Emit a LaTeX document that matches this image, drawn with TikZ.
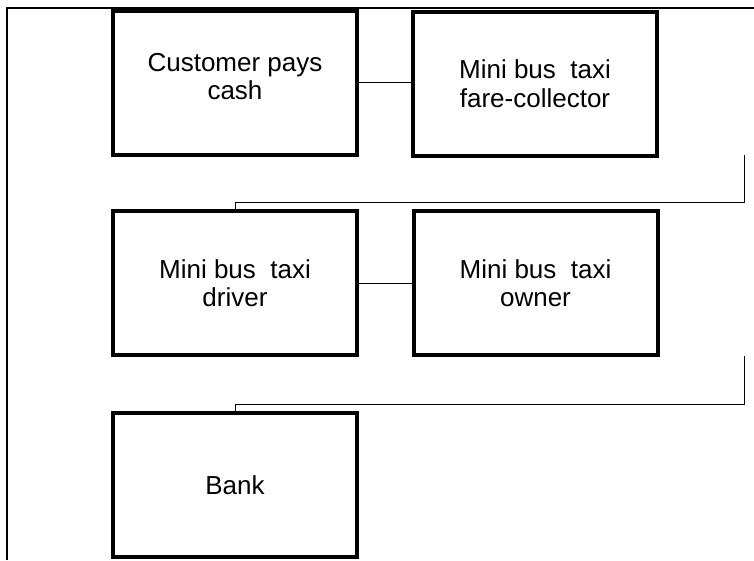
\documentclass[tikz,border=0pt]{standalone}
\usepackage{fontspec}
\setmainfont{Liberation Sans}
\begin{document}
\begin{tikzpicture}[x=1pt,y=-1pt,
  box/.style={draw=black, line width=4pt, rectangle, inner sep=0pt,
    minimum width=244pt, minimum height=144pt, align=center,
    font=\fontsize{26}{28.5}\selectfont},
  link/.style={draw=black, line width=1pt},
  frame/.style={draw=black, line width=2pt}]
  \useasboundingbox (0,0) rectangle (754,560);
  % outer frame (only the left and top edges fall inside the page)
  \draw[frame] (7,560) -- (7,8) -- (754,8);
  % boxes
  \node[box, text depth=12pt] (cust) at (235,82.5) {Customer pays\\cash};
  \node[box] (coll)  at (535,83.5)  {Mini bus\ \ taxi\\fare-collector};
  \node[box] (drv)   at (235,283)   {Mini bus\ \ taxi\\driver};
  \node[box] (own)   at (535.5,283) {Mini bus\ \ taxi\\owner};
  \node[box] (bank)  at (235,485)   {Bank};
  % links between neighbouring boxes
  \draw[link] (cust.east) -- (coll.west |- cust.east);
  \draw[link] (drv.east) -- (own.west |- drv.east);
  % return brackets down to the next row
  \coordinate (r1) at (744.5,155);
  \coordinate (r1b) at (744.5,202.5);
  \coordinate (r2) at (744.5,356);
  \coordinate (r2b) at (744.5,404);
  \draw[link] (r1) -- (r1b) -| (drv.north);
  \draw[link] (r2) -- (r2b) -| (bank.north);
\end{tikzpicture}
\end{document}
